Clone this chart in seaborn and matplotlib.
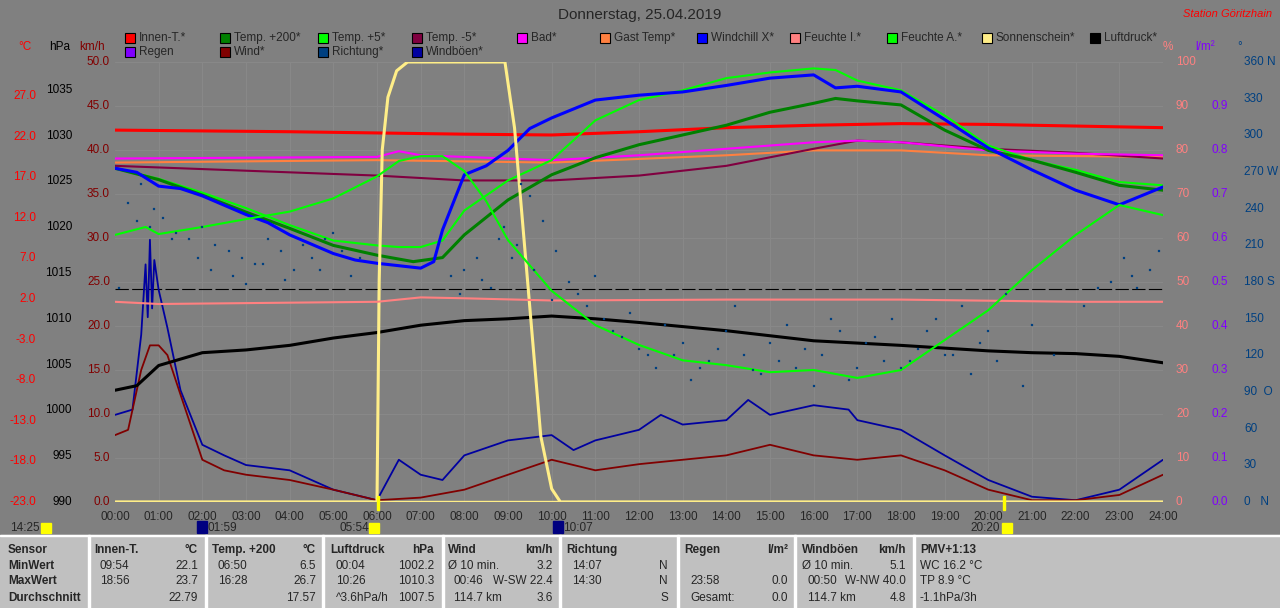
import matplotlib
matplotlib.use("Agg")
import matplotlib.pyplot as plt
import matplotlib.transforms as mtrans
import seaborn as sns
import pandas as pd
import numpy as np

sns.set_style("white")
plt.rcParams["font.family"] = ["Liberation Sans", "DejaVu Sans"]
plt.rcParams["font.size"] = 8

# ---------------- data ----------------
t_innen = [0, 4, 8, 10, 12, 14, 16, 18, 20, 22, 24]
v_innen = [22.8, 22.6, 22.3, 22.2, 22.6, 23.1, 23.4, 23.6, 23.5, 23.3, 23.1]

t_200 = [0, 1, 2, 3, 4, 5, 6, 6.83, 7.5, 8, 9, 10, 11, 12, 13, 14, 15, 16, 16.5, 17, 18, 19, 20, 21, 22, 23, 24]
v_200 = [18.1, 16.7, 14.8, 12.7, 10.7, 8.6, 7.4, 6.6, 7.1, 9.9, 14.2, 17.3, 19.4, 21.0, 22.2, 23.4, 25.0,
         26.1, 26.7, 26.4, 25.9, 22.8, 20.3, 19.1, 17.6, 16.0, 15.4]

t_chill = [0, 0.5, 1, 1.5, 2, 3, 3.5, 4, 5, 5.5, 6, 7, 7.3, 7.5, 8, 8.5, 9, 9.5, 10, 11, 12, 13, 14, 15, 16,
           16.5, 17, 18, 19, 20, 21, 22, 23, 24]
v_chill = [18.1, 17.6, 15.9, 15.6, 14.7, 12.4, 11.4, 9.9, 7.6, 6.8, 6.4, 5.8, 6.6, 10.5, 17.3, 18.4, 20.3,
           23.0, 24.3, 26.5, 27.1, 27.5, 28.3, 29.2, 29.6, 28.0, 28.2, 27.5, 24.1, 20.6, 17.9, 15.4, 13.6, 15.8]

t_t5 = [0, 1, 2, 3, 4, 5, 6, 6.5, 7, 7.5, 8, 9, 10, 11, 12, 13, 14, 15, 16, 16.5, 17, 18, 19, 20, 21, 22, 23, 24]
v_t5 = [18.1, 16.8, 15.1, 13.2, 11.1, 9.2, 8.6, 8.4, 8.4, 9.2, 12.9, 16.6, 19.1, 24.0, 26.5, 27.7, 29.2, 29.9,
        30.4, 30.2, 28.9, 27.7, 24.6, 20.9, 19.1, 17.9, 16.4, 16.0]

t_tm5 = [0, 3, 6, 8, 10, 12, 14, 16, 17, 18, 20, 22, 24]
v_tm5 = [18.4, 17.8, 17.2, 16.6, 16.6, 17.2, 18.4, 20.5, 21.5, 21.3, 20.5, 20.0, 19.3]

t_bad = [0, 6, 6.5, 7, 10, 12, 14, 16, 17, 18, 20, 22, 24]
v_bad = [19.3, 19.5, 20.2, 19.7, 19.1, 19.7, 20.5, 21.3, 21.5, 21.3, 20.3, 19.9, 19.7]

t_gast = [0, 6, 10, 14, 16, 18, 20, 24]
v_gast = [18.8, 19.1, 18.8, 19.7, 20.3, 20.3, 19.7, 19.5]

t_feuchte_a = [0, 0.7, 1, 2, 3, 4, 5, 6, 6.5, 7, 7.5, 8, 8.5, 9, 10, 11, 12, 13, 14, 15, 16, 17, 18, 19, 20,
               21, 22, 23, 24]
v_feuchte_a = [60.7, 62.5, 60.9, 62.5, 64.3, 66.0, 69.0, 74.0, 77.5, 78.6, 78.6, 75.2, 68.4, 59.5, 48.0,
               40.2, 35.7, 32.2, 31.1, 29.5, 30.0, 28.2, 30.0, 36.8, 43.6, 52.7, 60.7, 67.5, 65.2]

t_feuchte_i = [0, 1, 6, 7, 8, 10, 14, 18, 22, 24]
v_feuchte_i = [45.5, 45.0, 45.5, 46.5, 46.3, 45.8, 46.0, 46.0, 45.5, 45.5]

t_druck = [0, 0.5, 1, 2, 3, 4, 5, 6, 7, 8, 9, 10, 11, 12, 14, 16, 18, 20, 21, 22, 23, 24]
v_druck = [1002.2, 1002.7, 1004.9, 1006.3, 1006.6, 1007.1, 1007.9, 1008.5, 1009.3, 1009.8, 1010.0, 1010.3,
           1010.0, 1009.6, 1008.7, 1007.6, 1007.1, 1006.5, 1006.3, 1006.2, 1005.9, 1005.2]

t_sonne = [0, 6.0, 6.05, 6.12, 6.25, 6.45, 6.7, 8.93, 9.15, 9.45, 9.75, 10.0, 10.2, 24]
v_sonne = [0, 0, 50, 80, 92, 98, 100, 100, 85, 50, 15, 3, 0, 0]

t_wind = [0, 0.3, 0.6, 0.8, 1.0, 1.2, 1.5, 2, 2.5, 3, 4, 5, 5.5, 6, 7, 8, 9, 10, 11, 12, 13, 14, 15, 16, 17,
          18, 19, 20, 20.5, 21, 22, 23, 24]
v_wind = [7.6, 8.2, 15.0, 17.8, 17.8, 16.7, 12.2, 4.8, 3.6, 3.1, 2.5, 1.4, 0.8, 0.2, 0.5, 1.4, 3.1, 4.8, 3.6,
          4.3, 4.8, 5.3, 6.5, 5.3, 4.8, 5.3, 3.6, 1.4, 0.8, 0.2, 0.2, 0.8, 3.1]

t_boeen = [0, 0.4, 0.6, 0.7, 0.75, 0.8, 0.85, 0.9, 1.0, 1.2, 1.5, 2, 2.5, 3, 4, 5, 5.5, 6, 6.5, 7, 7.5, 8, 9,
           10, 10.5, 11, 12, 12.5, 13, 14, 14.5, 15, 16, 16.8, 17, 18, 19, 20, 21, 22, 23, 24]
v_boeen = [9.9, 10.5, 19.0, 27.0, 21.0, 29.8, 22.0, 27.5, 24.1, 19.8, 12.7, 6.5, 5.3, 4.2, 3.6, 1.4, 0.8,
           0.2, 4.8, 3.1, 2.5, 5.3, 7.0, 7.6, 5.9, 7.0, 8.2, 9.9, 8.8, 9.3, 11.6, 9.9, 11.0, 10.5, 9.3, 8.2,
           5.3, 2.5, 0.6, 0.2, 1.4, 4.8]

t_richtung = [0.1, 0.3, 0.5, 0.6, 0.8, 1.1, 1.4, 1.7, 2.0, 2.3, 2.6, 2.9, 3.2, 3.5, 3.8, 4.1, 4.5, 4.8, 5.2,
              5.6, 7.7, 8.0, 8.3, 8.6, 8.9, 9.2, 9.5, 9.8, 10.1, 10.4, 10.8, 11.2, 11.6, 12.0, 12.4, 12.8,
              13.2, 13.6, 14.0, 14.4, 14.8, 15.2, 15.6, 16.0, 16.4, 16.8, 17.2, 17.6, 18.0, 18.4, 18.8,
              19.2, 19.6, 20.0, 20.4, 20.8, 21.5, 22.2, 22.8, 23.1, 23.4, 23.7,
              0.9, 1.3, 1.9, 2.2, 2.7, 3.0, 3.4, 3.9, 4.3, 4.7, 5.0, 5.4, 7.9, 8.4, 8.8, 9.1, 9.3, 9.6,
              10.0, 10.6, 11.0, 11.4, 11.8, 12.2, 12.6, 13.0, 13.4, 13.8, 14.2, 14.6, 15.0, 15.4, 15.8,
              16.2, 16.6, 17.0, 17.4, 17.8, 18.2, 18.6, 19.0, 19.4, 19.8, 20.2, 21.0, 22.5, 23.3, 23.9]
v_richtung = [175, 245, 230, 260, 225, 232, 220, 215, 225, 210, 205, 200, 195, 215, 205, 190, 200, 215, 205,
              200, 185, 190, 200, 175, 225, 210, 250, 230, 205, 180, 160, 150, 135, 125, 110, 120, 100, 115,
              140, 120, 105, 115, 110, 95, 150, 100, 130, 115, 110, 125, 150, 120, 105, 140, 170, 95,
              120, 160, 180, 200, 175, 190,
              240, 215, 200, 190, 185, 178, 195, 182, 210, 190, 220, 185, 170, 182, 215, 200, 260, 190,
              165, 170, 185, 140, 155, 120, 145, 130, 110, 125, 160, 108, 130, 145, 125,
              120, 140, 110, 135, 150, 115, 140, 120, 160, 130, 115, 145, 175, 185, 205]

dashed_level = 24.2  # km/h

# ---------------- figure ----------------
BG = "#808080"
fig = plt.figure(figsize=(12.8, 6.08), dpi=100, facecolor=BG)
W, H = 1280, 608
L, R, T, B = 115, 1163, 62, 502
ax = fig.add_axes([L / W, (H - B) / H, (R - L) / W, (B - T) / H])
ax.set_facecolor(BG)
ax.set_xlim(0, 24)
ax.set_ylim(0, 50)
for s in ax.spines.values():
    s.set_visible(False)
ax.set_xticks([])
ax.set_yticks([])
for y in np.arange(5, 50.1, 5):
    ax.axhline(y, color="#888888", lw=0.8, zorder=0)
for x in range(1, 24):
    ax.axvline(x, color="#888888", lw=0.8, zorder=0)


def twin(lo, hi):
    a = ax.twinx()
    a.set_ylim(lo, hi)
    a.set_xlim(0, 24)
    a.axis("off")
    return a


ax_t = twin(-23, -23 + 440 / 8.12)
ax_p = twin(990, 990 + 440 / 9.16)
ax_h = twin(0, 100)
ax_d = twin(0, 360)


def line(a, t, v, color, lw=1.5):
    sns.lineplot(x=t, y=v, ax=a, color=color, lw=lw, legend=False)


sns.scatterplot(x=t_richtung, y=v_richtung, ax=ax_d, color="#004080", s=4, marker="s",
                edgecolor=None, legend=False)
line(ax_h, t_sonne, v_sonne, "#ffee88", 2.2)
line(ax_h, t_feuchte_i, v_feuchte_i, "#ff8080")
line(ax_t, t_gast, v_gast, "#ff8040")
line(ax_t, t_tm5, v_tm5, "#800040")
line(ax_t, t_bad, v_bad, "#ff00ff")
line(ax_t, t_innen, v_innen, "#ff0000", 2.2)
ax.axhline(dashed_level, color="black", lw=0.8, ls=(0, (12, 3)))
line(ax_p, t_druck, v_druck, "#000000", 2.2)
line(ax_h, t_feuchte_a, v_feuchte_a, "#00ff00")
line(ax_t, t_t5, v_t5, "#00ff00")
line(ax_t, t_200, v_200, "#008000", 2.2)
line(ax_t, t_chill, v_chill, "#0000ff", 2.2)
line(ax, t_boeen, v_boeen, "#0000a0", 1.3)
line(ax, t_wind, v_wind, "#800000", 1.3)
ax.plot([0, 24], [0.15, 0.15], color="#ffee88", lw=1)

# ---------------- axis labels ----------------
def scale_labels(a, vals, x, color, fmt, suffix=None):
    tr = mtrans.blended_transform_factory(fig.transFigure, a.transData)
    for i, v in enumerate(vals):
        txt = fmt.format(v) + (suffix[i] if suffix else "")
        a.text(x / W, v, txt, transform=tr, color=color, ha="left", va="center", fontsize=8.5)


def scale_labels_r(a, vals, x, color, fmt):
    tr = mtrans.blended_transform_factory(fig.transFigure, a.transData)
    for v in vals:
        a.text(x / W, v, fmt.format(v), transform=tr, color=color, ha="right", va="center", fontsize=8.5)


scale_labels_r(ax_t, np.arange(-23, 28, 5), 36, "#ff0000", "{:.1f}")
scale_labels_r(ax_p, np.arange(990, 1036, 5), 72, "#000000", "{:d}")
scale_labels_r(ax, np.arange(0, 51, 5), 110, "#800000", "{:.1f}")
scale_labels(ax_h, np.arange(0, 101, 10), 1176, "#ff8080", "{:d}")
scale_labels(ax_h, np.arange(0, 91, 10), 1212, "#8000ff", "", [f"{v / 100:.1f}" for v in np.arange(0, 91, 10)])
dir_suffix = {0: "   N", 90: "  O", 180: " S", 270: " W", 360: " N"}
dvals = np.arange(0, 361, 30)
scale_labels(ax_d, dvals, 1244, "#004080", "{:d}", [dir_suffix.get(v, "") for v in dvals])

for x, s, c in [(25, "°C", "#ff0000"), (60, "hPa", "#000000"), (92, "km/h", "#800000"),
                (1168, "%", "#ff8080"), (1205, "l/m²", "#8000ff"), (1240, "°", "#004080")]:
    fig.text(x / W, 1 - 47 / H, s, color=c, fontsize=8.5, ha="center", va="center")

for h in range(25):
    fig.text((L + h * (R - L) / 24) / W, 1 - 517 / H, f"{h:02d}:00", fontsize=8.5, ha="center", va="center")
for x, s in [(10, "14:25"), (208, "01:59"), (340, "05:54"), (563, "10:07"), (970, "20:20")]:
    fig.text(x / W, 1 - 528 / H, s, fontsize=8.5, ha="left", va="center")
for x in [41, 369, 1002]:
    fig.patches.append(plt.Rectangle((x / W, 1 - 533 / H), 10 / W, 10 / H, transform=fig.transFigure,
                                     color="#ffff00"))
for x in [197, 553]:
    fig.patches.append(plt.Rectangle((x / W, 1 - 533 / H), 10 / W, 12 / H, transform=fig.transFigure,
                                     color="#000080"))
fig.patches.append(plt.Rectangle((377 / W, 1 - 510 / H), 2 / W, 14 / H, transform=fig.transFigure, color="#ffff00"))
fig.patches.append(plt.Rectangle((1003 / W, 1 - 510 / H), 2 / W, 14 / H, transform=fig.transFigure, color="#ffff00"))

# ---------------- title / legend ----------------
fig.text(640 / W, 1 - 15 / H, "Donnerstag, 25.04.2019", fontsize=11, ha="center", va="center")
fig.text(1272 / W, 1 - 14 / H, "Station Göritzhain", fontsize=8, color="#ff0000", style="italic",
         ha="right", va="center")

legend_row1 = [("Innen-T.*", "#ff0000", 125), ("Temp. +200*", "#008000", 220), ("Temp. +5*", "#00ff00", 318),
               ("Temp. -5*", "#800040", 412), ("Bad*", "#ff00ff", 517), ("Gast Temp*", "#ff8040", 600),
               ("Windchill X*", "#0000ff", 697), ("Feuchte I.*", "#ff8080", 790),
               ("Feuchte A.*", "#00ff00", 887), ("Sonnenschein*", "#ffee88", 982),
               ("Luftdruck*", "#000000", 1090)]
legend_row2 = [("Regen", "#8000ff", 125), ("Wind*", "#800000", 220), ("Richtung*", "#004080", 318),
               ("Windböen*", "#0000a0", 412)]
for row, y in [(legend_row1, 38), (legend_row2, 52)]:
    for name, c, x in row:
        fig.patches.append(plt.Rectangle((x / W, 1 - (y + 5) / H), 10 / W, 10 / H, transform=fig.transFigure,
                                         facecolor=c, edgecolor="black", lw=0.8))
        fig.text((x + 14) / W, 1 - y / H, name, fontsize=8.5, ha="left", va="center")

# ---------------- table ----------------
fig.patches.append(plt.Rectangle((0, 0), 1, (H - 535) / H, transform=fig.transFigure, color="#c0c0c0"))
fig.patches.append(plt.Rectangle((0, (H - 536) / H), 1, 1.5 / H, transform=fig.transFigure, color="white"))
for x in [88, 205, 322, 442, 559, 677, 794, 913]:
    fig.patches.append(plt.Rectangle((x / W, 0), 1.5 / W, (H - 535) / H, transform=fig.transFigure,
                                     color="white"))

rows_y = [550, 566, 581, 598]
col_sensor = ["Sensor", "MinWert", "MaxWert", "Durchschnitt"]
for y, s in zip(rows_y, col_sensor):
    fig.text(8 / W, 1 - y / H, s, fontsize=8.5, weight="bold", va="center")

cols = [
    (94, 198, ("Innen-T.", "°C"), [("09:54", "22.1"), ("18:56", "23.7"), ("", "22.79")]),
    (212, 316, ("Temp. +200", "°C"), [("06:50", "6.5"), ("16:28", "26.7"), ("", "17.57")]),
    (330, 434, ("Luftdruck", "hPa"), [("00:04", "1002.2"), ("10:26", "1010.3"), ("^3.6hPa/h", "1007.5")]),
    (448, 553, ("Wind", "km/h"), [("Ø 10 min.", "3.2"), ("00:46", "W-SW 22.4"), ("114.7 km", "3.6")]),
    (566, 668, ("Richtung", ""), [("14:07", "N"), ("14:30", "N"), ("", "S")]),
    (684, 788, ("Regen", "l/m²"), [("", ""), ("23:58", "0.0"), ("Gesamt:", "0.0")]),
    (802, 906, ("Windböen", "km/h"), [("Ø 10 min.", "5.1"), ("00:50", "W-NW 40.0"), ("114.7 km", "4.8")]),
    (920, 1010, ("PMV+1:13", ""), [("WC 16.2 °C", ""), ("TP 8.9 °C", ""), ("-1.1hPa/3h", "")]),
]
for xl, xr, head, vals in cols:
    fig.text(xl / W, 1 - rows_y[0] / H, head[0], fontsize=8.5, weight="bold", va="center")
    fig.text(xr / W, 1 - rows_y[0] / H, head[1], fontsize=8.5, weight="bold", va="center", ha="right")
    for y, (a, b) in zip(rows_y[1:], vals):
        off = 0 if a.startswith(("Ø", "WC", "TP", "-1")) else 6
        fig.text((xl + off) / W, 1 - y / H, a, fontsize=8.5, va="center")
        fig.text(xr / W, 1 - y / H, b, fontsize=8.5, va="center", ha="right")

fig.savefig("out.png", dpi=100, facecolor=BG)
